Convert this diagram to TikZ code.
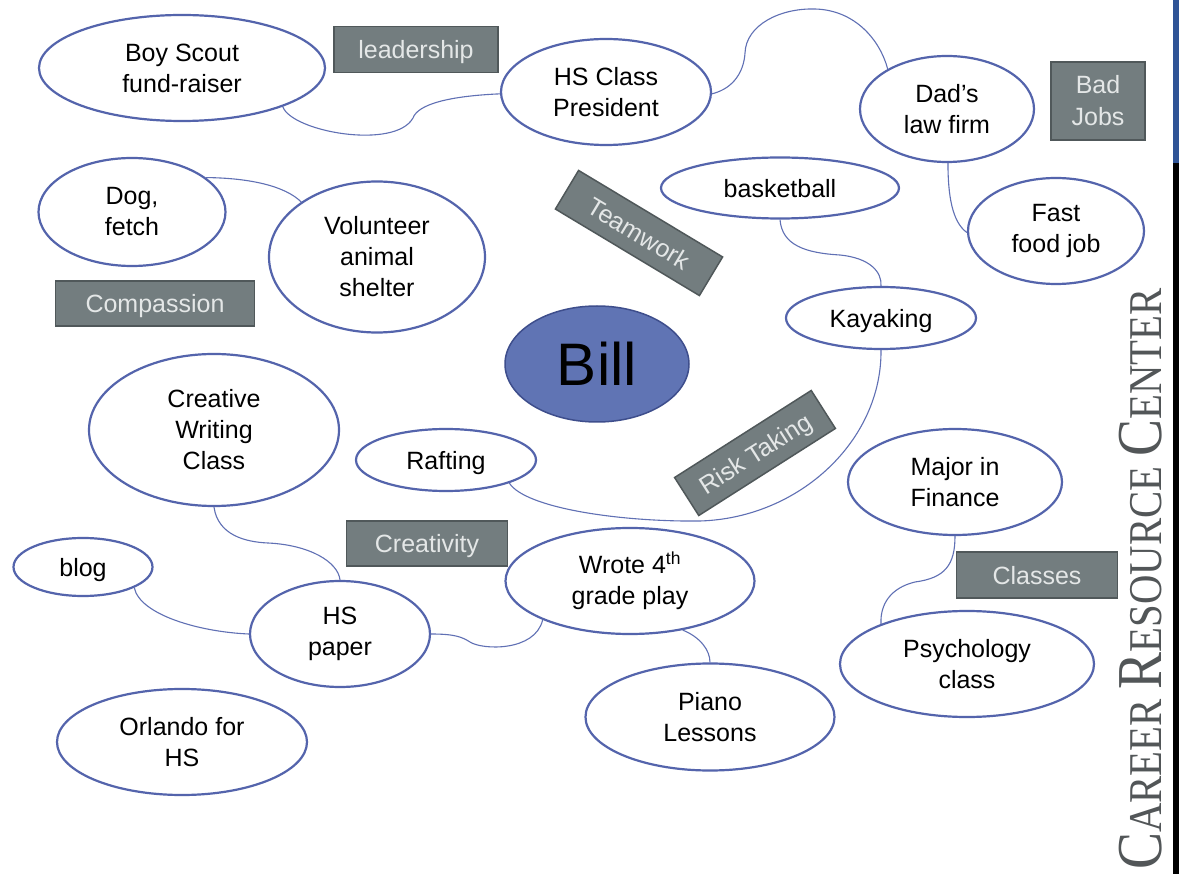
\documentclass[tikz,border=0pt]{standalone}
\usepackage{fontspec}
\setmainfont{Liberation Sans}
\newfontfamily\serifcrc{Liberation Serif}
\usetikzlibrary{shapes.geometric}
\definecolor{ebord}{RGB}{84,100,172}
\definecolor{conn}{RGB}{96,112,180}
\definecolor{billfill}{RGB}{96,116,180}
\definecolor{billbord}{RGB}{62,78,140}
\definecolor{boxfill}{RGB}{115,125,127}
\definecolor{boxbord}{RGB}{80,88,90}
\definecolor{boxtext}{RGB}{228,231,231}
\definecolor{crc}{RGB}{82,86,88}
\definecolor{barblue}{RGB}{47,84,150}
\begin{document}
\begin{tikzpicture}[x=1pt,y=-1pt,
  bubble/.style={ellipse, draw=ebord, line width=2.2pt, fill=white, inner sep=0pt, align=center, font=\fontsize{25}{31}\selectfont},
  oneline/.style={text height=19pt, text depth=0pt},
  tag/.style={rectangle, draw=boxbord, line width=1.5pt, fill=boxfill, text=boxtext, inner sep=0pt, align=center, font=\fontsize{25}{32}\selectfont},
  link/.style={draw=conn, line width=1.1pt}]
\useasboundingbox (0,0) rectangle (1179,874);
\fill[white] (0,0) rectangle (1179,874);
% right bar
\fill[barblue] (1173,0) rectangle (1179,163);
\fill[black] (1173,163) rectangle (1179,874);
\node[rotate=90, text=crc, inner sep=0pt] (crc) at (1141,579)
  {\scalebox{0.867}[1]{\serifcrc\fontsize{64}{64}\selectfont C\fontsize{47}{47}\selectfont AREER \fontsize{64}{64}\selectfont R\fontsize{47}{47}\selectfont ESOURCE \fontsize{64}{64}\selectfont C\fontsize{47}{47}\selectfont ENTER}};

% bubbles
\node[bubble, minimum width=286pt, minimum height=106pt] (bs) at (182,68) {Boy Scout\\fund-raiser};
\node[bubble, minimum width=210pt, minimum height=106pt] (hs) at (606,92) {HS Class\\President};
\node[bubble, minimum width=174pt, minimum height=106pt] (dad) at (947,109) {Dad's\\law firm};
\node[bubble, oneline, minimum width=238pt, minimum height=61pt] (bb) at (780,188) {basketball};
\node[bubble, minimum width=176pt, minimum height=106pt] (ff) at (1056,231) {Fast\\food job};
\node[bubble, oneline, minimum width=190pt, minimum height=62pt] (kay) at (881,318) {Kayaking};
\node[bubble, minimum width=187pt, minimum height=108pt] (dog) at (132,212) {Dog,\\fetch};
\node[bubble, minimum width=216pt, minimum height=151pt] (vol) at (377,257) {Volunteer\\animal\\shelter};
\node[ellipse, draw=billbord, line width=1.5pt, fill=billfill, inner sep=0pt, minimum width=184pt, minimum height=116pt, font=\fontsize{60}{60}\selectfont] (bill) at (597,364) {Bill};
\node[bubble, minimum width=250pt, minimum height=152pt] (cw) at (214,430) {Creative\\Writing\\Class};
\node[bubble, oneline, minimum width=180pt, minimum height=62pt] (raft) at (446,460) {Rafting};
\node[bubble, oneline, minimum width=139pt, minimum height=58pt] (blog) at (83,567) {blog};
\node[bubble, minimum width=180pt, minimum height=106pt] (hsp) at (340,634) {HS\\paper};
\node[bubble, minimum width=250pt, minimum height=106pt] (orl) at (182,742) {Orlando for\\HS};
\node[bubble, minimum width=249pt, minimum height=106pt] (wr) at (630,581) {Wrote 4\textsuperscript{th}\\grade play};
\node[bubble, minimum width=249pt, minimum height=107pt] (pi) at (710,717) {Piano\\Lessons};
\node[bubble, minimum width=214pt, minimum height=106pt] (mf) at (955,482) {Major in\\Finance};
\node[bubble, minimum width=254pt, minimum height=106pt] (ps) at (967,664) {Psychology\\class};

% tags
\node[tag, oneline, minimum width=164pt, minimum height=46pt] (t1) at (416,49.5) {leadership};
\node[tag, minimum width=94pt, minimum height=78pt] (t2) at (1098,101) {\raisebox{-2pt}{Bad}\\\raisebox{-2pt}{Jobs}};
\node[tag, oneline, minimum width=199pt, minimum height=45pt] (t3) at (155,303.5) {Compassion};
\node[tag, oneline, minimum width=161pt, minimum height=45pt] (t4) at (427,543.5) {Creativity};
\node[tag, oneline, minimum width=161pt, minimum height=46pt] (t5) at (1037,575) {Classes};
\node[tag, oneline, minimum width=168pt, minimum height=45pt, rotate=-31] (t6) at (639,233) {Teamwork};
\node[tag, oneline, minimum width=162pt, minimum height=45pt, rotate=32.5] (t7) at (755,453) {Risk Taking};

% connectors
\draw[link] (bs.-21) .. controls (292,132) and (395,150) .. (413,118) .. controls (418,104) and (450,96) .. (hs.181);
\draw[link] (hs.-1) .. controls (735,88) and (744,70) .. (745,53) .. controls (746,25) and (780,8) .. (815,9) .. controls (855,10) and (880,40) .. (dad.146);
\draw[link] (dad.-89) .. controls (948,195) and (952,222) .. (ff.181);
\draw[link] (bb.south) .. controls (782,245) and (805,253) .. (840,255) .. controls (870,258) and (882,272) .. (kay.north);
\draw[link] (raft.-20) .. controls (525,508) and (620,522) .. (700,521) .. controls (800,518) and (882,440) .. (kay.south);
\draw[link] (dog.25) .. controls (250,178) and (285,186) .. (vol.144);
\draw[link] (cw.south) .. controls (218,535) and (245,542) .. (268,543) .. controls (310,545) and (338,562) .. (hsp.north);
\draw[link] (blog.-22) .. controls (140,615) and (200,632) .. (hsp.west);
\draw[link] (hsp.east) .. controls (455,634) and (462,637) .. (470,642) .. controls (482,650) and (535,652) .. (wr.-156);
\draw[link] (wr.-43) .. controls (700,637) and (710,650) .. (pi.north);
\draw[link] (mf.south) .. controls (955,565) and (945,578) .. (915,582) .. controls (890,588) and (880,605) .. (ps.155);
\end{tikzpicture}
\end{document}
